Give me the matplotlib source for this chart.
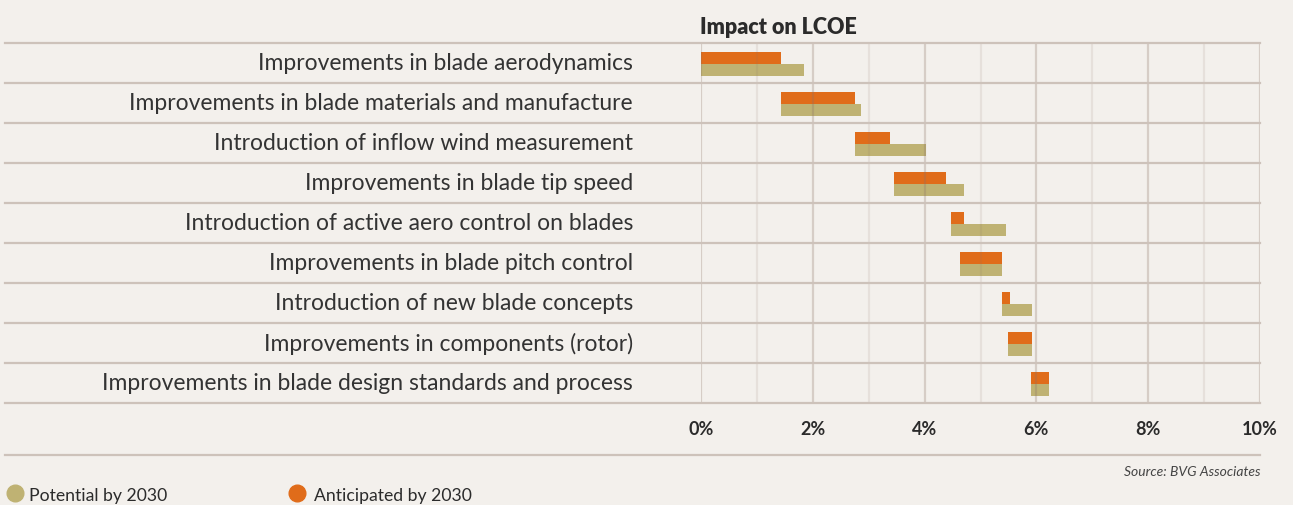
import numpy as np
import matplotlib
matplotlib.use("Agg")
import matplotlib.pyplot as plt
from matplotlib.lines import Line2D

# data (percent reduction in LCOE)
categories = ["Improvements in blade aerodynamics",
              "Improvements in blade materials and manufacture",
              "Introduction of inflow wind measurement",
              "Improvements in blade tip speed",
              "Introduction of active aero control on blades",
              "Improvements in blade pitch control",
              "Introduction of new blade concepts",
              "Improvements in components (rotor)",
              "Improvements in blade design standards and process"]
start = [0.0, 1.43, 2.75, 3.45, 4.47, 4.64, 5.38, 5.50, 5.90]
anticipated = [1.43, 1.33, 0.63, 0.93, 0.23, 0.74, 0.14, 0.42, 0.32]
potential = [1.85, 1.43, 1.27, 1.25, 0.98, 0.74, 0.54, 0.42, 0.32]
xticks = [0, 2, 4, 6, 8, 10]
xticklabels = ["0%", "2%", "4%", "6%", "8%", "10%"]

bg = "#f3f0ec"
orange = "#e06c1a"
khaki = "#bfb273"
line_c = "#cdc2ba"
text_c = "#2b2b2b"

plt.rcParams['font.family'] = ['Lato', 'DejaVu Sans']

W, H = 1293, 506
fig = plt.figure(figsize=(W/100, H/100), dpi=100, facecolor=bg)
ax = fig.add_axes([701/W, 1-404/H, 559/W, 360/H], facecolor=bg)

n = len(categories)
y = np.arange(n)
bh = 0.3
ax.barh(y + 0.03 - bh/2, anticipated, left=start, height=bh, color=orange, zorder=1)
ax.barh(y + 0.03 + bh/2, potential, left=start, height=bh, color=khaki, zorder=1)

ax.set_xlim(0, 10)
ax.set_ylim(n - 0.5, -0.5)
for s in ax.spines.values():
    s.set_visible(False)
ax.set_yticks([])
ax.set_xticks(xticks)
ax.set_xticklabels(xticklabels, fontsize=13, fontweight='bold', color=text_c)
ax.tick_params(axis='x', length=0, pad=12)

# vertical grid, darker on even percentages
for v in range(0, 11):
    if v % 2 == 0:
        ax.axvline(v, color=(0.55, 0.45, 0.40, 0.28), lw=1.6, zorder=2)
    else:
        ax.axvline(v, color=(0.55, 0.45, 0.40, 0.12), lw=1.6, zorder=2)

# row separators running under the labels
x0 = (5 - 701) / 559
for k in range(n + 1):
    ax.axhline(k - 0.5, xmin=x0, xmax=1, color=line_c, lw=1.6, clip_on=False, zorder=2)

# category labels
for i, c in enumerate(categories):
    ax.text((633 - 701) / 559, i, c, transform=ax.get_yaxis_transform(),
            ha='right', va='center', fontsize=16.5, color="#333333")

fig.text(700/W, 1-27/H, "Impact on LCOE", ha='left', va='center',
         fontsize=15.5, fontweight='heavy', color=text_c)

# bottom rule and source
fig.add_artist(Line2D([5/W, 1260/W], [1-456/H, 1-456/H], color=line_c, lw=1.6))
fig.text(1260/W, 1-472/H, "Source: BVG Associates", ha='right', va='center',
         fontsize=10, style='italic', color="#444444")

# legend
fig.add_artist(Line2D([15/W], [1-494/H], marker='o', ms=12, color=khaki, lw=0))
fig.text(29/W, 1-496/H, "Potential by 2030", ha='left', va='center',
         fontsize=12.7, color=text_c)
fig.add_artist(Line2D([297/W], [1-494/H], marker='o', ms=12, color=orange, lw=0))
fig.text(314/W, 1-496/H, "Anticipated by 2030", ha='left', va='center',
         fontsize=12.7, color=text_c)

fig.savefig("out.png", dpi=100, facecolor=bg)
